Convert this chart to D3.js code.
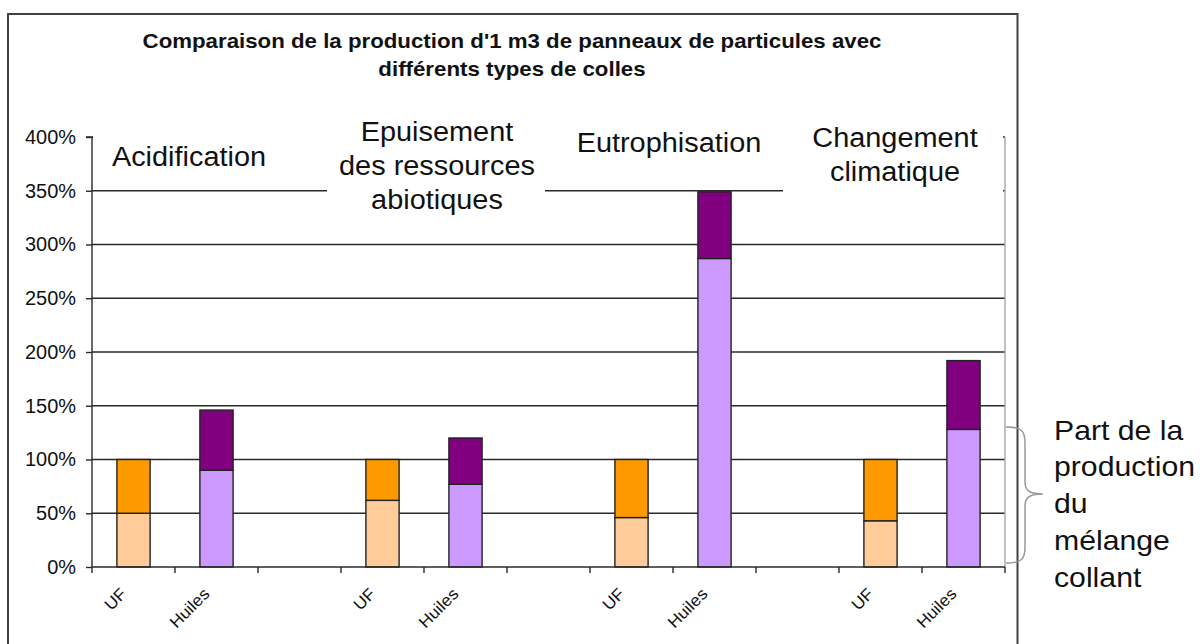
<!DOCTYPE html>
<html>
<head>
<meta charset="utf-8">
<script src="https://cdn.jsdelivr.net/npm/d3@7"></script>
<style>
  html, body { margin: 0; padding: 0; background: #fff; }
  svg { display: block; font-family: "Liberation Sans", Arial, sans-serif; }
</style>
</head>
<body>
<svg id="chart" width="1200" height="644"></svg>
<script>
// Impact categories (label lines) and the two glue types compared in each
const categories = [
  ["Acidification"],
  ["Epuisement", "des ressources", "abiotiques"],
  ["Eutrophisation"],
  ["Changement", "climatique"]
];
const glues = ["UF", "Huiles"];

// Relative impact (% of the UF board), split into adhesive-mix share and remainder
const ufMelange     = [50, 62, 46, 43];
const ufReste       = [50, 38, 54, 57];
const huilesMelange = [90, 77, 287, 128];
const huilesReste   = [56, 43, 62, 64];

const yTicks = [0, 50, 100, 150, 200, 250, 300, 350, 400];
const titleLines = [
  "Comparaison de la production d'1 m3 de panneaux de particules avec",
  "différents types de colles"
];
const noteLines = ["Part de la", "production", "du", "mélange", "collant"];

const colors = {
  UF:     { melange: "#FFCC99", reste: "#FF9900" },
  Huiles: { melange: "#CC99FF", reste: "#800080" }
};

const svg = d3.select("#chart");

// Slightly widen glyphs (the typeface is set a little wide)
function widen(sel, k) {
  sel.each(function () {
    const w = this.getComputedTextLength();
    d3.select(this).attr("textLength", w * k).attr("lengthAdjust", "spacingAndGlyphs");
  });
}

// Outer frame
svg.append("rect")
  .attr("x", 8).attr("y", 14)
  .attr("width", 1009.5).attr("height", 700)
  .attr("fill", "none").attr("stroke", "#404040").attr("stroke-width", 2);

// Title
svg.append("text")
  .attr("text-anchor", "middle")
  .attr("font-weight", "bold").attr("font-size", 21).attr("fill", "#111")
  .selectAll("tspan").data(titleLines).join("tspan")
  .attr("x", 512).attr("y", (d, i) => 48 + i * 27.5)
  .text(d => d)
  .call(widen, 1.06);

// Rows: one slot per bar, with an empty slot between impact categories
const rows = [];
categories.forEach((c, i) => {
  rows.push({ key: i + "-UF", cat: i, glue: "UF",
              melange: ufMelange[i], reste: ufReste[i] });
  rows.push({ key: i + "-Huiles", cat: i, glue: "Huiles",
              melange: huilesMelange[i], reste: huilesReste[i] });
  if (i < categories.length - 1) rows.push({ key: i + "-gap", cat: i, glue: null });
});

const x = d3.scaleBand().domain(rows.map(d => d.key)).range([92, 1005]).padding(0);
const y = d3.scaleLinear().domain([0, 400]).range([567, 137]);

// Horizontal gridlines
svg.append("g").selectAll("line").data(yTicks.filter(d => d > 0)).join("line")
  .attr("x1", 92).attr("x2", 1005)
  .attr("y1", d => y(d)).attr("y2", d => y(d))
  .attr("stroke", "#2a2a2a").attr("stroke-width", 1.4);

// Right border of the plot area
svg.append("line")
  .attr("x1", 1005).attr("x2", 1005).attr("y1", y(400)).attr("y2", y(0))
  .attr("stroke", "#a0a0a0").attr("stroke-width", 1.3);

// Stacked bars
const stack = d3.stack().keys(["melange", "reste"]);
const barRows = rows.filter(d => d.glue);
const series = stack(barRows);
const bw = x.bandwidth() * 0.4;
series.forEach(s => {
  svg.append("g").selectAll("rect").data(s).join("rect")
    .attr("x", d => x(d.data.key) + (x.bandwidth() - bw) / 2)
    .attr("width", bw)
    .attr("y", d => y(d[1]))
    .attr("height", d => y(d[0]) - y(d[1]))
    .attr("fill", d => colors[d.data.glue][s.key])
    .attr("stroke", "#222").attr("stroke-width", 1.4);
});

// Y axis
const yAxis = svg.append("g").attr("transform", "translate(92,0)")
  .call(d3.axisLeft(y).tickValues(yTicks).tickFormat(d => d + "%")
        .tickSize(6).tickPadding(10));
yAxis.attr("font-size", null).attr("font-family", null);
yAxis.select(".domain").attr("stroke", "#2a2a2a").attr("stroke-width", 1.4)
  .attr("d", `M-6,${y(400)}H0V${y(0)}`);
yAxis.selectAll(".tick line").attr("stroke", "#2a2a2a").attr("stroke-width", 1.4);
const yLabels = yAxis.selectAll(".tick text")
  .style("font-size", "20px").attr("fill", "#111");
// "400%" spans about 51px; scale every tick label by the same factor
const wRef = yLabels.filter(d => d === 400).node().getComputedTextLength();
yLabels.call(widen, 51 / wRef);

// X axis: baseline with ticks at slot boundaries
const bounds = rows.map(d => x(d.key)).concat([x.range()[1]]);
svg.append("line")
  .attr("x1", 92).attr("x2", 1005).attr("y1", y(0)).attr("y2", y(0))
  .attr("stroke", "#2a2a2a").attr("stroke-width", 1.4);
svg.append("g").selectAll("line").data(bounds).join("line")
  .attr("x1", d => d).attr("x2", d => d)
  .attr("y1", y(0)).attr("y2", y(0) + 6)
  .attr("stroke", "#2a2a2a").attr("stroke-width", 1.4);

// Slanted glue labels
svg.append("g").selectAll("text").data(barRows).join("text")
  .attr("transform", d => {
    const cx = x(d.key) + x.bandwidth() / 2 - 6;
    return `translate(${cx},${y(0) + 28}) rotate(-45)`;
  })
  .attr("text-anchor", "end")
  .attr("font-size", 16.5).attr("fill", "#111")
  .text(d => d.glue)
  .call(widen, 1.05);

// Category headings on white boxes over the top of the plot
const boxes = [
  { x0: 93,  x1: 327, y0: 118, y1: 189 },
  { x0: 327, x1: 545, y0: 110, y1: 228 },
  { x0: 545, x1: 783, y0: 118, y1: 189 },
  { x0: 783, x1: 1003, y0: 118, y1: 205 }
];
const headX = [189, 437, 669, 895];
const headTop = [166, 141, 152, 147];
const heads = svg.append("g");
categories.forEach((lines, i) => {
  const b = boxes[i];
  heads.append("rect")
    .attr("x", b.x0).attr("y", b.y0)
    .attr("width", b.x1 - b.x0).attr("height", b.y1 - b.y0)
    .attr("fill", "#fff");
  heads.append("text")
    .attr("text-anchor", "middle").attr("font-size", 27).attr("fill", "#111")
    .selectAll("tspan").data(lines).join("tspan")
    .attr("x", headX[i]).attr("y", (d, k) => headTop[i] + k * 34)
    .text(d => d)
    .call(widen, 1.07);
});

// Brace and note for the adhesive-mix share
const bTop = 427, bBot = 563, bMid = 494;
svg.append("path")
  .attr("d", `M1006,${bTop} C1022,${bTop} 1025,${bTop + 4} 1025,${bTop + 16}
              L1025,${bMid - 12} C1025,${bMid - 2} 1032,${bMid} 1043,${bMid}
              C1032,${bMid} 1025,${bMid + 2} 1025,${bMid + 12}
              L1025,${bBot - 16} C1025,${bBot - 4} 1022,${bBot} 1006,${bBot}`)
  .attr("fill", "none").attr("stroke", "#999").attr("stroke-width", 1.5);

svg.append("text")
  .attr("font-size", 28.5).attr("fill", "#111")
  .selectAll("tspan").data(noteLines).join("tspan")
  .attr("x", 1054).attr("y", (d, i) => 439.5 + i * 36.8)
  .text(d => d)
  .call(widen, 1.06);
</script>
</body>
</html>
